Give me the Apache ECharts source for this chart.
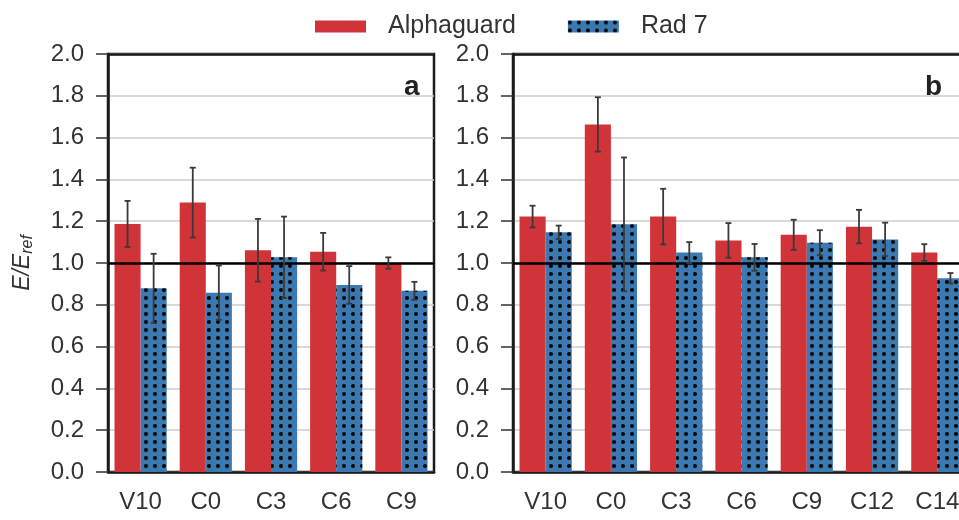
<!DOCTYPE html>
<html>
<head>
<meta charset="utf-8">
<script src="https://cdn.jsdelivr.net/npm/echarts@6/dist/echarts.min.js"></script>
<style>
  html, body { margin: 0; padding: 0; background: #fff; }
  #chart { width: 959px; height: 520px; }
</style>
</head>
<body>
<div id="chart"></div>
<script>
// panel a
var categoriesA = ['V10', 'C0', 'C3', 'C6', 'C9']
var alphaA = [1.187, 1.289, 1.061, 1.054, 1.0]
var alphaErrA = [0.11, 0.167, 0.15, 0.09, 0.027]
var radA = [0.879, 0.858, 1.027, 0.895, 0.867]
var radErrA = [0.165, 0.13, 0.195, 0.09, 0.043]

// panel b
var categoriesB = ['V10', 'C0', 'C3', 'C6', 'C9', 'C12', 'C14']
var alphaB = [1.222, 1.663, 1.222, 1.108, 1.135, 1.174, 1.05]
var alphaErrB = [0.052, 0.13, 0.133, 0.083, 0.072, 0.08, 0.04]
var radB = [1.147, 1.185, 1.05, 1.027, 1.097, 1.113, 0.927]
var radErrB = [0.032, 0.32, 0.05, 0.064, 0.06, 0.08, 0.025]

var yTicks = [0, 2, 0.2] // min, max, interval

var RED = '#d13438'
var BLUE = '#3d79b1'
var FONT = '"Liberation Sans", Arial, sans-serif'
var TXT = '#333'

var dots = {
  symbol: 'circle',
  symbolSize: 1,
  color: '#000',
  dashArrayX: [3.5, 4.5],
  dashArrayY: [3.5, 3.7],
  rotation: 0,
}

const chart = echarts.init(document.getElementById('chart'))

function errorBar(offset) {
  return function (params, api) {
    const x = api.value(0)
    const v = api.value(1)
    const e = api.value(2)
    const band = api.size([1, 0])[0]
    const hi = api.coord([x, v + e])
    const lo = api.coord([x, v - e])
    const cx = hi[0] + band * offset
    const style = { stroke: '#3a3a3a', lineWidth: 1.8 }
    return {
      type: 'group',
      children: [
        { type: 'line', shape: { x1: cx, y1: hi[1], x2: cx, y2: lo[1] }, style },
        { type: 'line', shape: { x1: cx - 3, y1: hi[1], x2: cx + 3, y2: hi[1] }, style },
        { type: 'line', shape: { x1: cx - 3, y1: lo[1], x2: cx + 3, y2: lo[1] }, style },
      ],
    }
  }
}

function pairs(vals, errs) {
  return vals.map((v, i) => [i, v, errs[i]])
}

function xAxisOf(cats, idx) {
  return {
    type: 'category',
    gridIndex: idx,
    data: cats,
    axisLine: { lineStyle: { color: '#1a1a1a', width: 2.5 } },
    axisTick: { alignWithLabel: true, length: 12, lineStyle: { color: '#333', width: 1.5 } },
    axisLabel: { color: TXT, fontSize: 24, fontFamily: FONT, margin: 18 },
  }
}

function yAxisOf(idx) {
  return {
    type: 'value',
    gridIndex: idx,
    min: yTicks[0],
    max: yTicks[1],
    interval: yTicks[2],
    axisLine: { show: true, lineStyle: { color: '#1a1a1a', width: 2.5 } },
    axisTick: { show: true, length: 12, lineStyle: { color: '#333', width: 1.5 } },
    axisLabel: { color: TXT, fontSize: 24, fontFamily: FONT, margin: 24, formatter: (v) => v.toFixed(1) },
    splitLine: { lineStyle: { color: '#cccccc', width: 1.5 } },
  }
}

// reference line at 1.0 and the frame top at 2.0
const refLine = {
  silent: true,
  symbol: 'none',
  label: { show: false },
  lineStyle: { color: '#000', width: 2.5, type: 'solid' },
  data: [{ yAxis: 1 }, { yAxis: yTicks[1], lineStyle: { color: '#1a1a1a', width: 2.5 } }],
}

function barsFor(idx, alpha, alphaErr, rad, radErr) {
  return [
    {
      name: 'Alphaguard',
      type: 'bar',
      xAxisIndex: idx,
      yAxisIndex: idx,
      data: alpha,
      barGap: '0%',
      barCategoryGap: '20%',
      itemStyle: { color: RED },
      markLine: refLine,
    },
    {
      name: 'Rad 7',
      type: 'bar',
      xAxisIndex: idx,
      yAxisIndex: idx,
      data: rad,
      barGap: '0%',
      barCategoryGap: '20%',
      itemStyle: { color: BLUE, decal: dots },
    },
    {
      type: 'custom',
      xAxisIndex: idx,
      yAxisIndex: idx,
      renderItem: errorBar(-0.2),
      data: pairs(alpha, alphaErr),
      z: 5,
      silent: true,
    },
    {
      type: 'custom',
      xAxisIndex: idx,
      yAxisIndex: idx,
      renderItem: errorBar(0.2),
      data: pairs(rad, radErr),
      z: 5,
      silent: true,
    },
  ]
}

const yA = yAxisOf(0)
yA.name = '{i|E/E}{s|ref}'
yA.nameLocation = 'middle'
yA.nameRotate = 90
yA.nameGap = 72
yA.nameTextStyle = {
  rich: {
    i: { fontSize: 23, fontStyle: 'italic', fontFamily: FONT, color: TXT },
    s: { fontSize: 16, fontStyle: 'italic', fontFamily: FONT, color: TXT, verticalAlign: 'bottom', padding: [10, 0, 0, 0] },
  },
}

const options = {
  animation: false,
  backgroundColor: '#fff',
  legend: {
    top: 9,
    left: 310,
    data: ['Alphaguard', 'Rad 7'],
    icon: 'rect',
    itemWidth: 51,
    itemHeight: 12,
    itemGap: 52,
    textStyle: { color: TXT, fontSize: 25, fontFamily: FONT, padding: [0, 0, 0, 17] },
  },
  grid: [
    { left: 108, top: 54, width: 326, height: 418, show: true, borderColor: '#1a1a1a', borderWidth: 2.5, outerBoundsMode: 'none' },
    { left: 513, top: 54, width: 457, height: 418, show: true, borderColor: '#1a1a1a', borderWidth: 2.5, outerBoundsMode: 'none' },
  ],
  xAxis: [xAxisOf(categoriesA, 0), xAxisOf(categoriesB, 1)],
  yAxis: [yA, yAxisOf(1)],
  graphic: [
    { type: 'text', left: 404, top: 73, style: { text: 'a', fontSize: 28, fontWeight: 'bold', fontFamily: FONT, fill: '#222' } },
    { type: 'text', left: 925, top: 73, style: { text: 'b', fontSize: 28, fontWeight: 'bold', fontFamily: FONT, fill: '#222' } },
  ],
  series: [].concat(
    barsFor(0, alphaA, alphaErrA, radA, radErrA),
    barsFor(1, alphaB, alphaErrB, radB, radErrB)
  ),
}
chart.setOption(options, true)
</script>
</body>
</html>
